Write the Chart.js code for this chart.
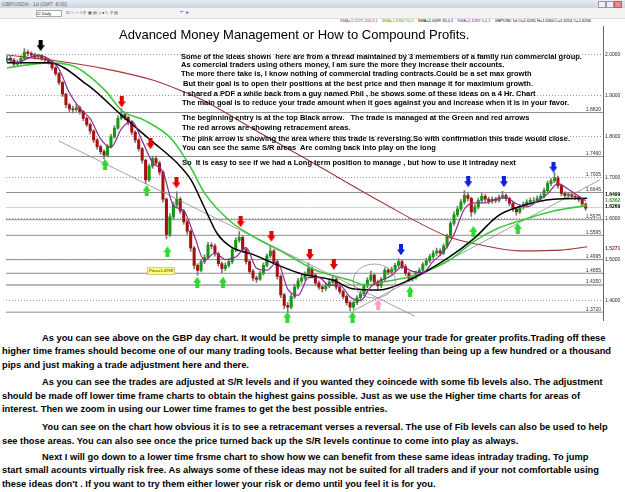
<!DOCTYPE html>
<html lang="en">
<head>
<meta charset="UTF-8">
<title>GBP/USD daily - Advanced Money Management</title>
<script src="https://cdn.jsdelivr.net/npm/chart.js"></script>
<style>
  html, body { margin: 0; padding: 0; background: #fff; }
  body { width: 625px; height: 492px; position: relative; overflow: hidden; font-family: "Liberation Sans", Arial, sans-serif; color: #000; }
  .titlebar { position: absolute; left: 0; top: 0; width: 625px; height: 8px; background: linear-gradient(#e6ebf2, #cdd6e2); font-size: 5px; line-height: 8px; color: #667; padding-left: 2px; box-sizing: border-box; }
  .winbtn { position: absolute; top: 1px; width: 6px; height: 5px; border: 1px solid #99a; background: #eef; }
  .toolbar { position: absolute; left: 0; top: 8px; width: 625px; height: 10px; background: #f3f3f3; border-bottom: 1px solid #ddd; }
  .tb { position: absolute; top: 2px; height: 5px; font-size: 4px; line-height: 5px; }
  .legend { position: absolute; top: 18px; left: 340px; font-size: 4px; line-height: 5px; white-space: nowrap; }
  .legend span { margin-right: 4px; }
  #wrap { position: absolute; left: 0; top: 20px; width: 625px; height: 306px; }
  .head { position: absolute; left: 119px; top: 27px; font-size: 13px; line-height: 16px; white-space: nowrap; }
  .note { position: absolute; font-weight: bold; font-size: 7.5px; line-height: 8px; white-space: nowrap; }
  .para { position: absolute; font-weight: bold; font-size: 9.3px; line-height: 13px; white-space: nowrap; }
</style>
</head>
<body>
  <div class="titlebar">GBP/USD/b - 1d (GMT -8:00)
    <div class="winbtn" style="left:598px"></div>
    <div class="winbtn" style="left:606px"></div>
    <div class="winbtn" style="left:614px;background:#e88;border-color:#c55"></div>
  </div>
  <div class="toolbar">
    <div class="tb" style="left:36px;width:24px;border:1px solid #aaa;background:#fff">&#9745; Daily</div>
    <div class="tb" style="left:66px;color:#335">&#9745; &#189; &#189; &#8801; &#9906; &#9638; &#9636; &#9671; &#9679; &#9998; &#9906; &#9636;</div>
    <div class="tb" style="left:180px;color:#23c;font-size:6px;font-weight:bold">&minus; +</div>
  </div>
  <div class="legend">
    <span style="color:#a03030">SMA=1.5271 200,0,1</span><span style="color:#2a2">SMA=1.6362 50,0</span><span>SMA=1.6499 35,0,1</span><span style="color:#802080">SMA=1.6269 5,0,1</span><span>GBPUSD 1d O=1.6265 H=1.6300 L=1.6254 C=1.6266</span>
  </div>

  <div id="wrap"><canvas id="c" width="625" height="306"></canvas></div>

  <div class="head">Advanced Money Management or How to Compound Profits.</div>

  <div class="note" style="left:181px;top:53px">Some of the ideas shown&nbsp; here are from a thread maintained by 3 memembers of a family run commercial group.</div>
  <div class="note" style="left:181px;top:61px">As comercial traders using others money, I am sure the more they increase their accounts.</div>
  <div class="note" style="left:181px;top:70px">The more there take is, I know nothing of commercial trading contracts.Could be a set max growth</div>
  <div class="note" style="left:183px;top:80px">But their goal is to open their positions at the best price and then manage it for maximium growth.</div>
  <div class="note" style="left:183px;top:90px">I shared a PDF a while back from a guy named Phil , he shows some of these ideas on a 4 Hr. Chart</div>
  <div class="note" style="left:182px;top:99px">The main goal is to reduce your trade amount when it goes against you and increase when it is in your favor.</div>
  <div class="note" style="left:182px;top:114px">The beginning entry is at the top Black arrow.&nbsp;&nbsp; The trade is managed at the Green and red arrows</div>
  <div class="note" style="left:182px;top:124px">The red arrows are showing retracement areas.</div>
  <div class="note" style="left:182px;top:135px">The pink arrow is showing the area where this trade is reversing.So with confirmation this trade would close.</div>
  <div class="note" style="left:182px;top:144px">You can see the same S/R areas&nbsp; Are coming back into play on the long</div>
  <div class="note" style="left:182px;top:159px">So&nbsp; It is easy to see if we had a Long term position to manage , but how to use it intraday next</div>

  <div class="para" style="left:42px;top:332px">As you can see above on the GBP day chart. It would be pretty simple to manage your trade for greater profits.Trading off these</div>
  <div class="para" style="left:2px;top:345px">higher time frames should become one of our many trading tools. Because what better feeling than being up a few hundred or a thousand</div>
  <div class="para" style="left:2px;top:359px">pips and just making a trade adjustment here and there.</div>
  <div class="para" style="left:42px;top:376px">As you can see the trades are adjusted at S/R levels and if you wanted they coincede with some fib levels also. The adjustment</div>
  <div class="para" style="left:2px;top:390px">should be made off lower time frame charts to obtain the highest gains possible. Just as we use the Higher time charts for areas of</div>
  <div class="para" style="left:2px;top:403px">interest. Then we zoom in using our Lower time frames to get the best possible entries.</div>
  <div class="para" style="left:42px;top:421px">You can see on the chart how obvious it is to see a retracemant verses a reversal. The use of Fib levels can also be used to help</div>
  <div class="para" style="left:2px;top:435px">see those areas. You can also see once the price turned back up the S/R levels continue to come into play as always.</div>
  <div class="para" style="left:42px;top:451px">Next I will go down to a lower time frsme chart to show how we can benefit from these same ideas intraday trading. To jump</div>
  <div class="para" style="left:2px;top:464px">start small acounts virtually risk free. As always some of these ideas may not be suited for all traders and if your not comfortable using</div>
  <div class="para" style="left:2px;top:478px">these ideas don't . If you want to try them either lower your risk or demo until you feel it is for you.</div>

<script>
// price axis ticks
const yTicks = [2.0, 1.9, 1.8, 1.7, 1.6, 1.5, 1.4];

// daily candles, GBPUSD (open = previous close)
const firstOpen = 1.985;
const closes = [
  1.990,1.986,1.976,1.979,1.990,2.005,2.002,1.998,1.993,1.995,
  1.990,1.986,1.981,1.967,1.953,1.931,1.903,1.877,1.867,1.865,
  1.870,1.860,1.844,1.829,1.813,1.791,1.775,1.763,1.754,1.775,
  1.799,1.820,1.844,1.853,1.846,1.834,1.810,1.791,1.770,1.742,
  1.694,1.727,1.746,1.735,1.713,1.647,1.561,1.604,1.633,1.647,
  1.618,1.592,1.569,1.528,1.486,1.474,1.495,1.505,1.535,1.533,
  1.514,1.490,1.478,1.486,1.495,1.524,1.547,1.554,1.524,1.495,
  1.471,1.455,1.452,1.467,1.486,1.509,1.521,1.495,1.459,1.414,
  1.388,1.384,1.410,1.433,1.448,1.455,1.464,1.478,1.462,1.443,
  1.433,1.429,1.436,1.445,1.452,1.433,1.422,1.410,1.395,1.384,
  1.395,1.407,1.417,1.436,1.450,1.462,1.445,1.436,1.452,1.474,
  1.469,1.476,1.486,1.495,1.483,1.467,1.452,1.457,1.467,1.474,
  1.488,1.497,1.507,1.516,1.521,1.516,1.533,1.557,1.588,1.609,
  1.623,1.640,1.656,1.649,1.616,1.628,1.644,1.654,1.647,1.642,
  1.647,1.644,1.652,1.656,1.649,1.637,1.623,1.616,1.628,1.635,
  1.640,1.644,1.644,1.649,1.654,1.668,1.685,1.692,1.699,1.680,
  1.661,1.656,1.659,1.654,1.652,1.647,1.635,1.625
];
const highs = [
  1.996,1.995,1.990,1.986,1.996,2.014,2.010,2.006,2.003,2.000,
  1.999,1.994,1.990,1.984,1.970,1.956,1.934,1.905,1.880,1.874,
  1.878,1.874,1.863,1.848,1.833,1.816,1.795,1.779,1.767,1.780,
  1.805,1.826,1.850,1.868,1.860,1.850,1.838,1.814,1.795,1.773,
  1.745,1.732,1.752,1.752,1.740,1.716,1.650,1.612,1.640,1.665,
  1.652,1.622,1.597,1.573,1.532,1.490,1.500,1.512,1.542,1.541,
  1.538,1.518,1.494,1.492,1.501,1.530,1.553,1.568,1.558,1.528,
  1.499,1.476,1.460,1.472,1.492,1.514,1.532,1.525,1.499,1.463,
  1.418,1.395,1.416,1.440,1.454,1.462,1.470,1.492,1.482,1.466,
  1.448,1.437,1.442,1.451,1.462,1.456,1.437,1.426,1.414,1.399,
  1.400,1.412,1.423,1.441,1.456,1.472,1.466,1.450,1.457,1.480,
  1.479,1.482,1.491,1.502,1.498,1.488,1.470,1.462,1.472,1.480,
  1.493,1.503,1.513,1.522,1.528,1.526,1.538,1.562,1.593,1.616,
  1.630,1.646,1.668,1.662,1.652,1.634,1.650,1.661,1.659,1.652,
  1.653,1.651,1.657,1.666,1.660,1.652,1.640,1.627,1.633,1.640,
  1.646,1.650,1.651,1.655,1.660,1.674,1.691,1.698,1.712,1.703,
  1.684,1.665,1.664,1.662,1.658,1.655,1.650,1.638
];
const lows = [
  1.980,1.981,1.970,1.972,1.976,1.987,1.996,1.992,1.988,1.989,
  1.985,1.981,1.976,1.962,1.948,1.925,1.897,1.870,1.860,1.857,
  1.861,1.854,1.838,1.824,1.806,1.785,1.769,1.757,1.745,1.750,
  1.772,1.795,1.817,1.840,1.840,1.828,1.804,1.785,1.764,1.735,
  1.685,1.690,1.722,1.730,1.706,1.640,1.550,1.556,1.598,1.628,
  1.612,1.586,1.562,1.520,1.478,1.462,1.470,1.490,1.500,1.526,
  1.508,1.484,1.468,1.473,1.481,1.490,1.519,1.542,1.518,1.489,
  1.465,1.448,1.444,1.449,1.462,1.482,1.504,1.489,1.452,1.407,
  1.380,1.372,1.380,1.405,1.428,1.442,1.449,1.460,1.456,1.437,
  1.427,1.421,1.424,1.431,1.440,1.427,1.416,1.404,1.389,1.375,
  1.379,1.390,1.402,1.412,1.431,1.446,1.439,1.428,1.431,1.448,
  1.463,1.464,1.471,1.481,1.477,1.461,1.446,1.447,1.452,1.462,
  1.470,1.484,1.492,1.502,1.510,1.509,1.512,1.528,1.552,1.583,
  1.604,1.618,1.635,1.643,1.605,1.611,1.623,1.639,1.641,1.636,
  1.637,1.638,1.640,1.648,1.643,1.631,1.617,1.608,1.612,1.623,
  1.630,1.636,1.638,1.640,1.645,1.650,1.664,1.680,1.687,1.674,
  1.655,1.650,1.650,1.648,1.646,1.641,1.629,1.620
];

// moving averages: [bar index, price]
const sma5 = [[0,1.988],[3,1.980],[6,1.990],[9,1.998],[12,1.989],[15,1.964],[18,1.906],[21,1.868],[24,1.843],[27,1.794],
  [30,1.773],[33,1.818],[36,1.837],[39,1.789],[42,1.736],[45,1.714],[48,1.632],[51,1.619],[54,1.559],[57,1.498],
  [60,1.516],[63,1.500],[66,1.506],[69,1.529],[72,1.479],[75,1.474],[78,1.494],[81,1.428],[84,1.413],[87,1.456],
  [90,1.456],[93,1.437],[96,1.438],[99,1.409],[102,1.400],[105,1.434],[108,1.449],[111,1.461],[114,1.482],[117,1.471],
  [120,1.468],[123,1.496],[126,1.519],[129,1.561],[132,1.623],[135,1.638],[138,1.638],[141,1.647],[144,1.650],[147,1.636],
  [150,1.628],[153,1.642],[156,1.660],[159,1.685],[162,1.671],[165,1.654],[167,1.643]];
const sma35 = [[0,1.979],[12,1.979],[23.4,1.924],[33.1,1.851],[41.7,1.789],[49.1,1.735],[53.1,1.694],[56.9,1.628],
  [60.6,1.564],[64.6,1.531],[71.1,1.512],[77.7,1.488],[85.4,1.464],[94,1.450],[99.7,1.429],[107.4,1.426],[116,1.450],
  [127.4,1.5045],[134.9,1.552],[141.7,1.6065],[148.3,1.630],[157.7,1.647],[167.4,1.649]];
const sma50 = [[0,1.967],[12,1.979],[18.9,1.972],[28.3,1.912],[33.1,1.863],[39.7,1.839],[47.4,1.794],[53.1,1.723],
  [56.9,1.663],[64.6,1.592],[72,1.552],[78.9,1.521],[85.4,1.490],[89.1,1.474],[98.9,1.450],[103.4,1.438],[108.3,1.445],
  [117.7,1.462],[127.4,1.497],[134.9,1.545],[141.7,1.576],[148.3,1.595],[157.7,1.618],[167.4,1.632]];
const sma200 = [[0,1.998],[14,1.984],[28,1.965],[42.5,1.936],[50,1.912],[57,1.886],[71,1.818],[89,1.732],
  [108,1.640],[127,1.557],[137,1.535],[148,1.521],[160,1.523],[167.5,1.531]];

// support / resistance lines and their labels
const srLevels = [1.858, 1.751, 1.6634, 1.597, 1.559, 1.4998, 1.4666, 1.4382, 1.3718];
const srLabels = ['1.8820', '1.7460', '1.6645', '1.5975', '1.5595', '1.4995', '1.4655', '1.4350', '1.3720'];
const extraLevels = [1.7];
const extraLabels = ['1.7005'];
const lastPrice = 1.6266;

// trend lines [start, end]
const trendDown = [[14.9, 1.789], [117.7, 1.362]];
const trendUp = [[99.7, 1.374], [171.1, 1.694]];

// arrows [bar index, price]
const blackArrows = [[9.7, 2.021]];
const redArrows = [[33.1,1.884],[41.4,1.782],[48.9,1.687],[67.4,1.592],[76.3,1.557],[87.4,1.512],[94.3,1.488]];
const blueArrows = [[113.7,1.5235],[133.1,1.6895],[143.4,1.6895],[157.7,1.725]];
const greenArrows = [[28.3,1.732],[40.3,1.668],[46.3,1.519],[54.9,1.445],[62.3,1.445],[80.9,1.360],[99.7,1.360],[116.3,1.4216],[134.6,1.5686],[147.4,1.5757]];
const pinkArrows = [[107.1, 1.391]];

// other marks
const circleAt = [106, 1.4476];
const priceTagAt = [40.6, 1.4714];
const priceTagText = 'Price=1.4998';
const sideTexts = ['1.6499', '1.6362', '1.6269', '1.5271'];
const sideValues = [1.659, 1.644, 1.628, 1.526];

const BULL = '#109a10', BEAR = '#a81010';
const opens = closes.map((c, i) => i ? closes[i - 1] : firstOpen);
const pts = arr => arr.map(p => ({ x: p[0], y: p[1] }));

function arrowImg(color, down) {
  const c = document.createElement('canvas');
  c.width = 8; c.height = 11;
  const g = c.getContext('2d');
  g.fillStyle = color;
  g.beginPath();
  if (down) {
    g.moveTo(2, 0); g.lineTo(6, 0); g.lineTo(6, 5); g.lineTo(8, 5); g.lineTo(4, 11); g.lineTo(0, 5); g.lineTo(2, 5);
  } else {
    g.moveTo(2, 11); g.lineTo(6, 11); g.lineTo(6, 6); g.lineTo(8, 6); g.lineTo(4, 0); g.lineTo(0, 6); g.lineTo(2, 6);
  }
  g.closePath();
  g.fill();
  return c;
}

function arrowSet(arr, color, down) {
  return { type: 'scatter', data: pts(arr), pointStyle: arrowImg(color, down), pointRadius: 5, clip: false, order: 0 };
}
function maLine(arr, color, w) {
  return { type: 'line', data: pts(arr), borderColor: color, borderWidth: w, pointRadius: 0, cubicInterpolationMode: 'monotone', order: 1 };
}
function flatLine(v, color, w, order) {
  return { type: 'line', data: [{ x: -0.3, y: v }, { x: 172, y: v }], borderColor: color, borderWidth: w, pointRadius: 0, order };
}

const datasets = [
  arrowSet(blackArrows, '#000', true),
  arrowSet(redArrows, '#e00000', true),
  arrowSet(blueArrows, '#1020d8', true),
  arrowSet(greenArrows, '#2ed82e', false),
  arrowSet(pinkArrows, '#ff9ccc', false),
  maLine(sma5, '#8e2a8e', 1.2),
  maLine(sma35, '#000', 1.5),
  maLine(sma50, '#3cc83c', 1.6),
  maLine(sma200, '#a03838', 1.1),
  { type: 'line', data: pts(trendDown), borderColor: '#8a8a8a', borderWidth: 0.8, pointRadius: 0, order: 2 },
  { type: 'line', data: pts(trendUp), borderColor: '#8a8a8a', borderWidth: 0.8, pointRadius: 0, order: 2 },
  {
    type: 'bar', order: 3, grouped: false, barThickness: 2.4, borderWidth: 0,
    data: closes.map((c, i) => ({ x: i, y: [opens[i], c] })),
    backgroundColor: closes.map((c, i) => c >= opens[i] ? BULL : BEAR)
  },
  {
    type: 'bar', order: 4, grouped: false, barThickness: 1, borderWidth: 0,
    data: closes.map((c, i) => ({ x: i, y: [lows[i], highs[i]] })),
    backgroundColor: '#7a7a7a'
  },
  flatLine(lastPrice, '#9fe8ef', 1, 5)
];
srLevels.forEach(v => datasets.push(flatLine(v, v === 1.4382 ? '#b8b8b8' : '#8c8c8c', v === 1.4382 ? 2 : 1, 5)));

// labels, circle and price tag drawn on top of the plot
const overlay = {
  id: 'overlay',
  afterDatasetsDraw(chart) {
    const { ctx, chartArea: a, scales: { x, y } } = chart;
    ctx.save();
    ctx.font = '5px "Liberation Sans"';
    ctx.fillStyle = '#333';
    ctx.textAlign = 'right';
    ctx.textBaseline = 'bottom';
    srLevels.forEach((v, k) => ctx.fillText(srLabels[k], a.right - 2, y.getPixelForValue(v) - 0.5));
    extraLevels.forEach((v, k) => ctx.fillText(extraLabels[k], a.right - 2, y.getPixelForValue(v) - 0.5));

    ctx.strokeStyle = '#8a8a8a';
    ctx.lineWidth = 0.8;
    ctx.beginPath();
    ctx.ellipse(x.getPixelForValue(circleAt[0]), y.getPixelForValue(circleAt[1]), 21, 17, 0, 0, Math.PI * 2);
    ctx.stroke();

    const tx = x.getPixelForValue(priceTagAt[0]), ty = y.getPixelForValue(priceTagAt[1]);
    ctx.fillStyle = '#ffff70';
    ctx.fillRect(tx, ty - 3.5, 27, 7);
    ctx.strokeStyle = '#999';
    ctx.lineWidth = 0.5;
    ctx.strokeRect(tx, ty - 3.5, 27, 7);
    ctx.fillStyle = '#333';
    ctx.font = '4px "Liberation Sans"';
    ctx.textAlign = 'left';
    ctx.textBaseline = 'middle';
    ctx.fillText(priceTagText, tx + 1.5, ty);

    const sideColors = ['#000', '#2a2', '#000', '#a03030'];
    ctx.font = 'bold 5px "Liberation Sans"';
    sideTexts.forEach((t, k) => {
      ctx.fillStyle = sideColors[k];
      ctx.fillText(t, a.right + 2, y.getPixelForValue(sideValues[k]));
    });
    ctx.restore();
  }
};

new Chart(document.getElementById('c'), {
  type: 'bar',
  data: { datasets },
  options: {
    responsive: false,
    animation: false,
    events: [],
    layout: { padding: { top: 2, bottom: 2, left: 0, right: 0 } },
    plugins: { legend: { display: false }, tooltip: { enabled: false } },
    scales: {
      x: { type: 'linear', min: -0.3, max: 172, offset: false, display: false, grid: { offset: false } },
      y: {
        position: 'right',
        min: 1.35276,
        max: 2.0688,
        afterBuildTicks: s => { s.ticks = yTicks.map(v => ({ value: v })); },
        afterFit: s => { s.width = 22; },
        grid: { color: '#9a9a9a', lineWidth: 1, drawTicks: false },
        border: { display: true, color: '#666', dash: [1, 2] },
        ticks: {
          font: { size: 5, family: 'Liberation Sans' },
          color: '#222',
          padding: 2,
          callback: v => v.toFixed(4)
        }
      }
    }
  },
  plugins: [overlay]
});
</script>
</body>
</html>
